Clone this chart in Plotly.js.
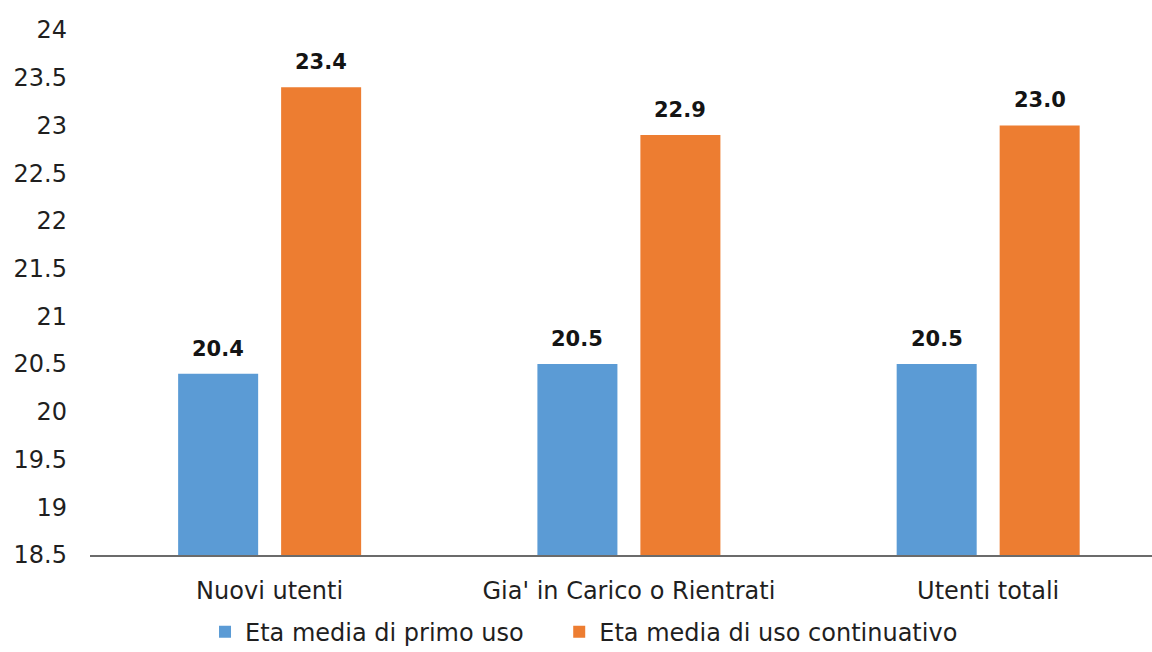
<!DOCTYPE html>
<html>
<head>
<meta charset="utf-8">
<script src="https://cdn.plot.ly/plotly-3.0.1.min.js"></script>
<style>
  html, body { margin: 0; padding: 0; background: #ffffff; }
  #chart { width: 1152px; height: 652px; }
</style>
</head>
<body>
<div id="chart"></div>
<script>
// Category groups along the x axis
const categories = ["Nuovi utenti", "Gia' in Carico o Rientrati", "Utenti totali"];

// Series names
const seriesFirstUse = "Eta media di primo uso";
const seriesContinued = "Eta media di uso continuativo";

// Mean ages per group
const firstUseValues = [20.4, 20.5, 20.5];
const continuedValues = [23.4, 22.9, 23.0];

// Y axis ticks
const yTickValues = [18.5, 19, 19.5, 20, 20.5, 21, 21.5, 22, 22.5, 23, 23.5, 24];
const yTickLabels = ["18.5", "19", "19.5", "20", "20.5", "21", "21.5", "22", "22.5", "23", "23.5", "24"];

const blue = "#5B9BD5";
const orange = "#ED7D31";
const textColor = "#1f1f1f";
const fontFamily = "DejaVu Sans, Verdana, sans-serif";

// Extra room after the first legend entry
const legendPad = "\u00a0".repeat(4);

const traces = [
  {
    type: "bar",
    name: seriesFirstUse + legendPad,
    x: categories,
    y: firstUseValues,
    marker: { color: blue },
    hoverinfo: "skip"
  },
  {
    type: "bar",
    name: seriesContinued,
    x: categories,
    y: continuedValues,
    marker: { color: orange },
    hoverinfo: "skip"
  }
];

// Value labels above each bar, placed from the same values as the bars
const slotShift = 51.5;
const annotations = [];
function addLabels(values, shift) {
  values.forEach(function (v, i) {
    annotations.push({
      x: categories[i],
      y: v,
      xref: "x",
      yref: "y",
      xshift: shift,
      yshift: 11,
      yanchor: "bottom",
      showarrow: false,
      text: "<b>" + v.toFixed(1) + "</b>",
      font: { family: fontFamily, size: 21, color: "#141414" }
    });
  });
}
addLabels(firstUseValues, -slotShift);
addLabels(continuedValues, slotShift);

const layout = {
  width: 1152,
  height: 652,
  margin: { l: 90, r: 0, t: 30, b: 97, autoexpand: false },
  paper_bgcolor: "#ffffff",
  plot_bgcolor: "#ffffff",
  barmode: "group",
  bargap: 0.4267,
  bargroupgap: 0.223,
  font: { family: fontFamily, size: 24, color: textColor },
  xaxis: {
    type: "category",
    range: [-0.5, 2.456],
    showline: true,
    linecolor: "#6b6b6b",
    linewidth: 1.5,
    showgrid: false,
    zeroline: false,
    ticks: "",
    ticklabelstandoff: 14,
    tickfont: { family: fontFamily, size: 24, color: textColor },
    fixedrange: true
  },
  yaxis: {
    range: [18.5, 24],
    tickmode: "array",
    tickvals: yTickValues,
    ticktext: yTickLabels,
    showline: false,
    showgrid: false,
    zeroline: false,
    ticks: "",
    ticklabelstandoff: 22,
    tickfont: { family: fontFamily, size: 24, color: textColor },
    fixedrange: true
  },
  showlegend: true,
  legend: {
    orientation: "h",
    x: 0.1083,
    xanchor: "left",
    y: -0.147,
    yanchor: "middle",
    font: { family: fontFamily, size: 24, color: textColor },
    itemwidth: 30,
    bgcolor: "rgba(0,0,0,0)"
  },
  annotations: annotations
};

Plotly.newPlot("chart", traces, layout, { displayModeBar: false, staticPlot: true });
</script>
</body>
</html>
